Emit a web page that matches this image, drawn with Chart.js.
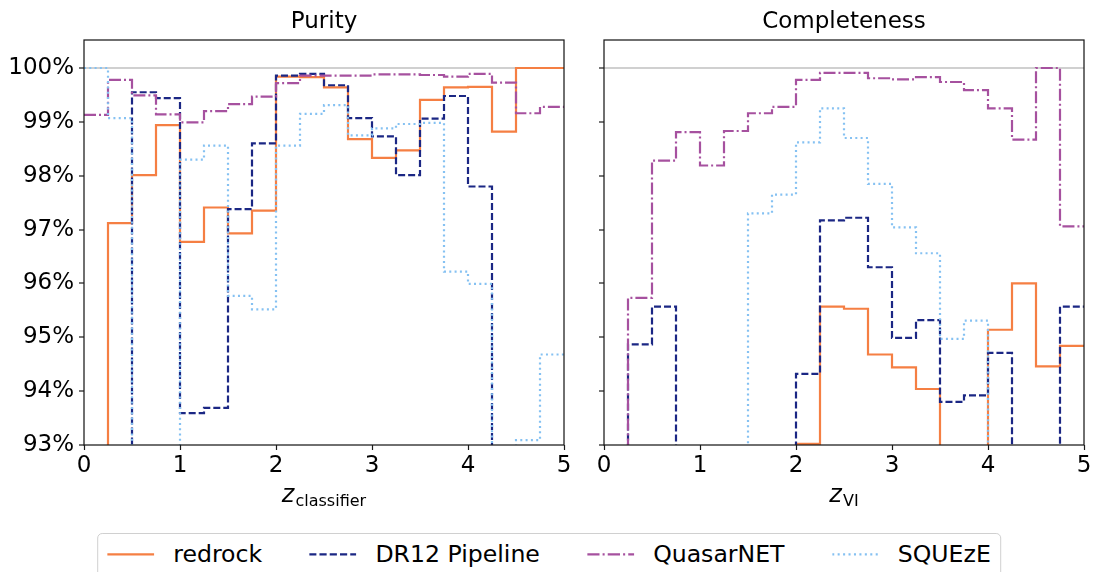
<!DOCTYPE html>
<html>
<head>
<meta charset="utf-8">
<script src="https://cdn.jsdelivr.net/npm/chart.js@4.4.1/dist/chart.umd.min.js"></script>
<style>
  html, body { margin: 0; padding: 0; background: #fff; }
  #wrap { position: relative; width: 1094px; height: 572px; overflow: hidden; font-family: 'DejaVu Sans', sans-serif; }
  .panel { position: absolute; top: 0; }
  #legend {
    position: absolute; top: 533px; left: 549px; transform: translateX(-50%);
    display: flex; align-items: center; white-space: nowrap;
    font-size: 23.6px; line-height: 1.2; color: #000;
    border: 1px solid #d0d0d0; border-radius: 5px; background: #fff;
    padding: 6px 9px 20px 9px;
  }
  #legend .item { display: flex; align-items: center; }
  #legend .item + .item { margin-left: 2em; }
  #legend svg { width: 2em; height: 1em; margin-right: 0.8em; }
</style>
</head>
<body>
<div id="wrap">
  <canvas id="purity" class="panel" style="left:0" width="574" height="520"></canvas>
  <canvas id="completeness" class="panel" style="left:520px" width="574" height="520"></canvas>
  <div id="legend"></div>
</div>
<script>
// bin edges of the redshift histograms
var binEdges = [0, 0.25, 0.5, 0.75, 1, 1.25, 1.5, 1.75, 2, 2.25, 2.5,
                2.75, 3, 3.25, 3.5, 3.75, 4, 4.25, 4.5, 4.75, 5];
var xTicks = [0, 1, 2, 3, 4, 5];
var yTicks = [93, 94, 95, 96, 97, 98, 99, 100];

// purity per bin (%), values under 93 fall below the axis
var purityRedrock   = [90, 97.12, 98.01, 98.94, 96.77, 97.41, 96.93, 97.35, 99.84, 99.83,
                       99.64, 98.68, 98.33, 98.47, 99.41, 99.64, 99.65, 98.82, 100, 100];
var purityDR12      = [90, 90, 99.55, 99.44, 93.59, 93.69, 97.38, 98.60, 99.86, 99.89,
                       99.68, 99.07, 98.73, 98.01, 99.06, 99.48, 97.80, 90, 90, 90];
var purityQuasarNET = [99.13, 99.78, 99.49, 99.14, 98.99, 99.20, 99.33, 99.47, 99.72, 99.86,
                       99.86, 99.86, 99.88, 99.88, 99.87, 99.84, 99.89, 99.73, 99.16, 99.28];
var puritySQUEzE    = [100, 99.07, 90, 90, 98.30, 98.56, 95.77, 95.52, 98.56, 99.15,
                       99.31, 98.75, 98.88, 98.96, 98.98, 96.22, 95.99, 90, 93.09, 94.68];

// completeness per bin (%)
var complRedrock    = [90, 90, 90, 90, 90, 90, 90, 90, 93.02, 95.57,
                       95.53, 94.68, 94.44, 94.04, 90, 90, 95.14, 96.00, 94.46, 94.84];
var complDR12       = [90, 94.87, 95.57, 90, 90, 90, 90, 90, 94.32, 97.17,
                       97.22, 96.30, 94.99, 95.32, 93.80, 93.92, 94.71, 90, 90, 95.57];
var complQuasarNET  = [90, 95.73, 98.28, 98.81, 98.19, 98.83, 99.16, 99.28, 99.78, 99.91,
                       99.91, 99.81, 99.79, 99.83, 99.74, 99.59, 99.25, 98.67, 100, 97.06];
var complSQUEzE     = [90, 90, 90, 90, 90, 90, 97.30, 97.65, 98.62, 99.25,
                       98.70, 97.85, 97.04, 96.56, 94.97, 95.31, 90, 90, 90, 90];

var seriesNames = ['redrock', 'DR12 Pipeline', 'QuasarNET', 'SQUEzE'];
var seriesColors = ['#F57F43', '#1B2784', '#A6519F', '#85C1F2'];
var seriesDash = [[], [7, 3], [12, 3, 2, 3], [2, 3.3]];

var FONT = "'DejaVu Sans', sans-serif";

function stepPoints(values) {
  var pts = values.map(function(v, i) { return { x: binEdges[i], y: v }; });
  pts.push({ x: binEdges[values.length], y: values[values.length - 1] });
  return pts;
}

// frame, panel title and x label (italic z with subscript)
var panelText = {
  id: 'panelText',
  afterDraw: function(chart, args, opts) {
    var ctx = chart.ctx, a = chart.chartArea;
    var cx = (a.left + a.right) / 2;
    ctx.save();
    ctx.strokeStyle = '#1a1a1a';
    ctx.lineWidth = 1.25;
    ctx.strokeRect(a.left, a.top, a.right - a.left, a.bottom - a.top);
    ctx.fillStyle = '#000';
    ctx.textBaseline = 'alphabetic';
    ctx.textAlign = 'center';
    ctx.font = '23px ' + FONT;
    ctx.fillText(opts.title, cx, 27.5);
    ctx.textAlign = 'left';
    ctx.font = 'italic 24px ' + FONT;
    var wz = ctx.measureText('z').width;
    ctx.font = '16px ' + FONT;
    var ws = ctx.measureText(opts.sub).width;
    var x0 = cx - (wz + ws + 1) / 2;
    ctx.font = 'italic 24px ' + FONT;
    ctx.fillText('z', x0, 502);
    ctx.font = '16px ' + FONT;
    ctx.fillText(opts.sub, x0 + wz + 1, 506);
    ctx.restore();
  }
};

function makePanel(canvasId, title, sub, seriesValues, showYLabels) {
  var datasets = seriesValues.map(function(vals, i) {
    return {
      label: seriesNames[i],
      data: stepPoints(vals),
      stepped: true,
      borderColor: seriesColors[i],
      backgroundColor: seriesColors[i],
      borderWidth: 2.2,
      borderDash: seriesDash[i],
      pointRadius: 0,
      fill: false,
      order: seriesValues.length - i
    };
  });

  return new Chart(document.getElementById(canvasId), {
    type: 'line',
    data: { datasets: datasets },
    options: {
      responsive: false,
      animation: false,
      events: [],
      layout: { padding: { left: 0, right: 10, top: 40, bottom: 0 } },
      plugins: {
        legend: { display: false },
        tooltip: { enabled: false },
        panelText: { title: title, sub: sub }
      },
      scales: {
        x: {
          type: 'linear', min: 0, max: 5,
          afterBuildTicks: function(s) { s.ticks = xTicks.map(function(v) { return { value: v }; }); },
          afterFit: function(s) { s.height = 75; },
          grid: { drawOnChartArea: false, drawTicks: true, tickLength: 5, tickColor: '#1a1a1a', tickWidth: 1.2 },
          border: { display: false },
          ticks: { font: { family: FONT, size: 23 }, color: '#000', padding: 2, maxRotation: 0 }
        },
        y: {
          type: 'linear', min: 93, max: 100.52,
          afterBuildTicks: function(s) { s.ticks = yTicks.map(function(v) { return { value: v }; }); },
          afterFit: function(s) { s.width = 84; },
          grid: {
            color: function(c) { return c.tick && c.tick.value === 100 ? '#d0d0d0' : 'rgba(0,0,0,0)'; },
            lineWidth: 2,
            drawTicks: true, tickLength: 5, tickColor: '#1a1a1a', tickWidth: 1.2
          },
          border: { display: false },
          ticks: {
            font: { family: FONT, size: 23 }, color: '#000', padding: 5,
            callback: function(v) { return showYLabels ? v + '%' : ''; }
          }
        }
      }
    },
    plugins: [panelText]
  });
}

makePanel('purity', 'Purity', 'classifier',
  [purityRedrock, purityDR12, purityQuasarNET, puritySQUEzE], true);
makePanel('completeness', 'Completeness', 'VI',
  [complRedrock, complDR12, complQuasarNET, complSQUEzE], false);

// shared legend under both panels
var legend = document.getElementById('legend');
seriesNames.forEach(function(name, i) {
  var item = document.createElement('div');
  item.className = 'item';
  item.innerHTML = '<svg viewBox="0 0 46 23"><line x1="0" y1="12" x2="46" y2="12" stroke="' +
    seriesColors[i] + '" stroke-width="2.2" stroke-dasharray="' +
    (seriesDash[i].length ? seriesDash[i].join(' ') : 'none') + '"/></svg><span>' + name + '</span>';
  legend.appendChild(item);
});
</script>
</body>
</html>
